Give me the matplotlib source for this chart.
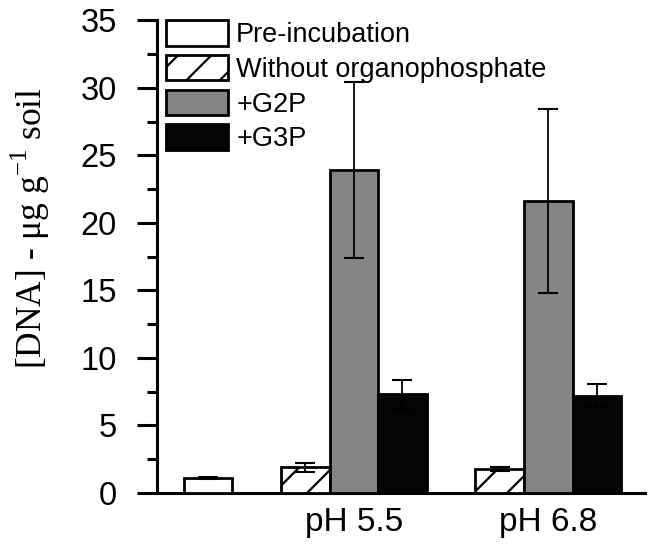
import numpy as np
import matplotlib
matplotlib.use("Agg")
import matplotlib.pyplot as plt
from matplotlib.ticker import MultipleLocator

plt.rcParams["font.family"] = ["Liberation Sans", "DejaVu Sans"]
plt.rcParams["hatch.linewidth"] = 1.6

# data
series = ["Pre-incubation", "Without organophosphate", "+G2P", "+G3P"]
groups = ["pH 5.5", "pH 6.8"]
pre_value, pre_err = 1.1, 0.08
without_op = [1.9, 1.8]
without_op_err = [0.35, 0.15]
g2p = [23.9, 21.6]
g2p_err = [6.5, 6.8]
g3p = [7.3, 7.2]
g3p_err = [1.1, 0.85]

# bar slots: pre-incubation alone, then 3 bars per pH group
group_start = np.array([2, 6])
w = 1.0

fig = plt.figure(figsize=(6.53, 5.46), dpi=100)
ax = fig.add_axes([0.2404, 0.097, 0.748, 0.866])

ebar = dict(ecolor="black", elinewidth=1.3, capsize=7.5, capthick=1.5, zorder=4)
bar_kw = dict(width=w, edgecolor="black", linewidth=2.0, zorder=3)

ax.bar([0], [pre_value], yerr=[pre_err], color="white", label=series[0],
       error_kw=ebar, **bar_kw)
ax.bar(group_start, without_op, yerr=without_op_err, color="white", hatch="/",
       label=series[1], error_kw=ebar, **bar_kw)
ax.bar(group_start + 1, g2p, yerr=g2p_err, color="#858585", label=series[2],
       error_kw=ebar, **bar_kw)
ax.bar(group_start + 2, g3p, yerr=g3p_err, color="#050505", label=series[3],
       error_kw=ebar, **bar_kw)

ax.set_xlim(-1.05, 9.0)
ax.set_ylim(0, 35)
ax.yaxis.set_major_locator(MultipleLocator(5))
ax.yaxis.set_minor_locator(MultipleLocator(2.5))
ax.set_xticks(group_start + 1)
ax.set_xticklabels(groups)

for s in ["top", "right"]:
    ax.spines[s].set_visible(False)
for s in ["left", "bottom"]:
    ax.spines[s].set_linewidth(2.2)

ax.tick_params(axis="y", which="major", direction="out", length=14.5, width=2.2,
               labelsize=23.5, pad=14.5)
ax.tick_params(axis="y", which="minor", direction="out", length=7, width=2.2)
ax.tick_params(axis="x", length=0, labelsize=24, pad=10)

ax.set_ylabel(r"[DNA] - $\mathregular{\mu}$g g$^{\mathregular{-1}}$ soil",
              fontsize=25.5, family="Liberation Serif")
ax.yaxis.set_label_coords(-0.215, 0.56)

ax.legend(loc="upper left", bbox_to_anchor=(0.018, 1.0), frameon=False,
          fontsize=19.5, handlelength=2.3, handleheight=1.07,
          handletextpad=0.3, labelspacing=0.25, borderpad=0, borderaxespad=0)

fig.savefig("out.png", dpi=100, facecolor="white")
